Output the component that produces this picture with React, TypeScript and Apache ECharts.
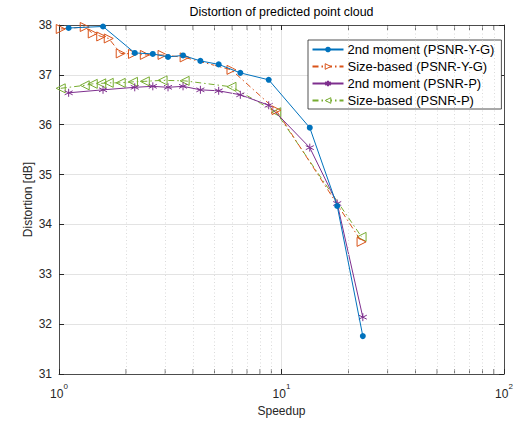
import React, { useEffect, useRef } from "react";
import * as echarts from "echarts";

// ---- data ----
const momentX = [1.105, 1.577, 2.19, 2.64, 3.09, 3.61, 4.32, 5.22, 6.53, 8.76, 13.4, 17.8, 23.2];
const momentYG = [37.94, 37.97, 37.44, 37.42, 37.36, 37.39, 37.28, 37.21, 37.04, 36.9, 35.94, 34.37, 31.76];
const momentP = [36.64, 36.7, 36.75, 36.77, 36.75, 36.77, 36.7, 36.68, 36.6, 36.39, 35.54, 34.42, 32.14];
const sizeX = [1.018, 1.305, 1.418, 1.548, 1.673, 1.894, 2.15, 2.43, 2.92, 3.67, 5.96, 9.47, 22.9];
const sizeYG = [37.92, 37.96, 37.83, 37.77, 37.73, 37.43, 37.42, 37.4, 37.4, 37.35, 37.1, 36.29, 33.65];
const sizeP = [36.73, 36.79, 36.82, 36.83, 36.84, 36.84, 36.86, 36.87, 36.89, 36.88, 36.76, 36.25, 33.75];
const seriesNames = [
  "2nd moment (PSNR-Y-G)",
  "Size-based (PSNR-Y-G)",
  "2nd moment (PSNR-P)",
  "Size-based (PSNR-P)",
];
const minorX = [2, 3, 4, 5, 6, 7, 8, 9, 20, 30, 40, 50, 60, 70, 80, 90];
const yMin = 31;
const yMax = 38;
const xMin = 1;
const xMax = 100;
const titleText = "Distortion of predicted point cloud";
const xName = "Speedup";
const yName = "Distortion [dB]";

const FONT = "'Liberation Sans', Arial, Helvetica, sans-serif";
const AX = "#262626";
const BLUE = "#0072BD";
const ORANGE = "#D95319";
const PURPLE = "#7E2F8E";
const GREEN = "#77AC30";
const DASHDOT = [6, 3, 1.5, 3];
const ASTERISK = "path://M0,-5L0,5M-4.33,-2.5L4.33,2.5M-4.33,2.5L4.33,-2.5";

const zip = (xs: number[], ys: number[]) => xs.map((x, i) => [x, ys[i]]);

export default function App() {
  const ref = useRef<HTMLDivElement>(null);
  useEffect(() => {
    if (!ref.current) return;
    const chart = echarts.init(ref.current, null, { renderer: "svg" });
    const grid = { left: 59, right: 14, top: 25, bottom: 49 };
    const logLabel = (v: number) => `{b|10}{s|${Math.round(Math.log10(v))}}`;
    const openStyle = (c: string) => ({ color: "#fff", borderColor: c, borderWidth: 1 });
    chart.setOption({
      animation: false,
      backgroundColor: "#fff",
      textStyle: { fontFamily: FONT },
      grid,
      graphic: [
        {
          type: "text",
          x: 281.5,
          y: 12,
          style: {
            text: titleText,
            fontSize: 12.4,
            fontFamily: FONT,
            fill: "#000",
            align: "center",
            verticalAlign: "middle",
          },
        },
      ],
      legend: {
        data: [
          { name: seriesNames[0] },
          { name: seriesNames[1], itemStyle: openStyle(ORANGE) },
          { name: seriesNames[2] },
          { name: seriesNames[3], itemStyle: openStyle(GREEN) },
        ],
        orient: "vertical",
        left: 308,
        top: 40,
        padding: [2, 7, 1, 3.5],
        itemGap: 2,
        itemWidth: 31,
        itemHeight: 7,
        backgroundColor: "#fff",
        borderColor: AX,
        borderWidth: 0.8,
        borderRadius: 0,
        textStyle: { fontSize: 13, color: "#000", fontFamily: FONT, padding: [0, 0, 0, -1], lineHeight: 15 },
      },
      xAxis: [
        {
          type: "log",
          logBase: 10,
          min: xMin,
          max: xMax,
          name: xName,
          nameLocation: "middle",
          nameGap: 30,
          nameTextStyle: { fontSize: 12, color: AX, fontFamily: FONT },
          axisLine: { show: true, onZero: false, lineStyle: { color: AX, width: 0.8 } },
          axisTick: { show: true, inside: true, length: 5, lineStyle: { color: AX } },
          axisLabel: {
            margin: 8,
            formatter: logLabel,
            rich: {
              b: { fontSize: 12, color: AX, fontFamily: FONT, verticalAlign: "bottom", lineHeight: 18 },
              s: { fontSize: 8, color: AX, fontFamily: FONT, verticalAlign: "top", lineHeight: 18 },
            },
          },
          splitLine: { show: true, lineStyle: { color: "#e3e3e3", width: 1 } },
        },
        {
          type: "log",
          logBase: 10,
          min: xMin,
          max: xMax,
          position: "top",
          axisLine: { show: true, onZero: false, lineStyle: { color: AX, width: 0.8 } },
          axisTick: { show: true, inside: true, length: 5, lineStyle: { color: AX } },
          axisLabel: { show: false },
          splitLine: { show: false },
        },
      ],
      yAxis: [
        {
          type: "value",
          min: yMin,
          max: yMax,
          interval: 1,
          name: yName,
          nameLocation: "middle",
          nameGap: 25,
          nameMoveOverlap: false,
          nameTextStyle: { fontSize: 12, color: AX, fontFamily: FONT },
          axisLine: { show: true, onZero: false, lineStyle: { color: AX, width: 0.8 } },
          axisTick: { show: true, inside: true, length: 5, lineStyle: { color: AX } },
          axisLabel: { margin: 7, fontSize: 12, color: AX, fontFamily: FONT },
          splitLine: { show: true, lineStyle: { color: "#e3e3e3", width: 1 } },
        },
        {
          type: "value",
          min: yMin,
          max: yMax,
          interval: 1,
          position: "right",
          axisLine: { show: true, onZero: false, lineStyle: { color: AX, width: 0.8 } },
          axisTick: { show: true, inside: true, length: 5, lineStyle: { color: AX } },
          axisLabel: { show: false },
          splitLine: { show: false },
        },
      ],
      series: [
        {
          name: "minor-grid",
          type: "scatter",
          silent: true,
          z: 1,
          symbol: "rect",
          symbolSize: [0.8, 5],
          symbolOffset: [0, -2.5],
          itemStyle: { color: AX },
          data: minorX.map((v) => [v, yMin]),
          markLine: {
            silent: true,
            symbol: "none",
            label: { show: false },
            lineStyle: { color: "#dadada", type: [1, 2.5], width: 1 },
            data: minorX.map((v) => ({ xAxis: v })),
          },
        },
        {
          name: "minor-top",
          type: "scatter",
          silent: true,
          z: 1,
          symbol: "rect",
          symbolSize: [0.8, 5],
          symbolOffset: [0, 2.5],
          itemStyle: { color: AX },
          data: minorX.map((v) => [v, yMax]),
        },
        {
          name: seriesNames[0],
          type: "line",
          z: 5,
          data: zip(momentX, momentYG),
          symbol: "circle",
          symbolSize: 6,
          lineStyle: { color: BLUE, width: 1 },
          itemStyle: { color: BLUE },
        },
        {
          name: seriesNames[1],
          type: "line",
          z: 4,
          data: zip(sizeX, sizeYG),
          symbol: "triangle",
          symbolRotate: -90,
          symbolSize: 9,
          lineStyle: { color: ORANGE, width: 1, type: DASHDOT },
          itemStyle: { color: "transparent", borderColor: ORANGE, borderWidth: 1 },
        },
        {
          name: seriesNames[2],
          type: "line",
          z: 4,
          data: zip(momentX, momentP),
          symbol: ASTERISK,
          symbolSize: 8,
          lineStyle: { color: PURPLE, width: 1 },
          itemStyle: { color: PURPLE, borderColor: PURPLE, borderWidth: 1 },
        },
        {
          name: seriesNames[3],
          type: "line",
          z: 3,
          data: zip(sizeX, sizeP),
          symbol: "triangle",
          symbolRotate: 90,
          symbolSize: 9,
          lineStyle: { color: GREEN, width: 1, type: DASHDOT },
          itemStyle: { color: "transparent", borderColor: GREEN, borderWidth: 1 },
        },
      ],
    });
    return () => chart.dispose();
  }, []);
  return (
    <div
      ref={ref}
      style={{ position: "absolute", left: 0, top: 0, width: 518, height: 423 }}
    />
  );
}
